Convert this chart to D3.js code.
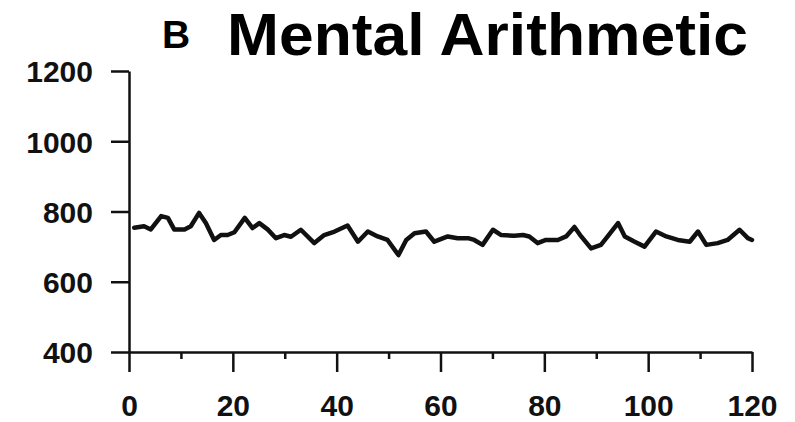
<!DOCTYPE html>
<html>
<head>
<meta charset="utf-8">
<script src="https://cdn.jsdelivr.net/npm/d3@7"></script>
<style>
  body { margin: 0; background: #fff; }
  svg { display: block; }
  .axis path, .axis line { stroke: #111; stroke-width: 2.5; }
  .axis text { font-family: "Liberation Sans", Arial, sans-serif; font-weight: bold; font-size: 30px; fill: #111; }
  .trace { fill: none; stroke: #111; stroke-width: 4.5; stroke-linejoin: round; stroke-linecap: round; }
</style>
</head>
<body>
<script>
var width = 795;
var height = 422;

// trace (time, value)
var times = [1, 2.9, 4.2, 6.2, 7.5, 8.7, 10.7, 11.9, 13.5, 14.8, 16.4, 17.7, 19, 20.3, 22.3, 23.8,
    25.1, 26.7, 28.3, 29.9, 31.2, 33.1, 35.7, 37.6, 39.6, 42.1, 44.1, 46, 47.9, 49.8, 51.9, 53.4,
    55, 57.2, 58.8, 61.4, 63.3, 65.3, 66.5, 68.1, 70.1, 71.7, 74.2, 75.9, 77.1, 78.7, 80.3, 82.6,
    84.2, 85.8, 87.1, 89, 90.9, 92.2, 94.2, 95.5, 97.4, 99.3, 101.5, 103.5, 105.7, 108, 109.6,
    111.2, 113.4, 115.3, 117.6, 119.2, 120];
var values = [754, 758, 749, 787, 782, 749, 749, 758, 796, 767, 719, 733, 733, 741, 782, 753,
    767, 749, 724, 733, 728, 748, 710, 733, 743, 760, 714, 743, 729, 719, 676, 719,
    738, 743, 714, 729, 724, 724, 719, 705, 748, 733, 731, 733, 729, 710, 719, 719,
    729, 756, 729, 695, 705, 729, 767, 729, 714, 700, 743, 729, 719, 714, 743,
    705, 710, 719, 748, 724, 719];

var xTicks = [0, 20, 40, 60, 80, 100, 120];
var xMinorTicks = [10, 30, 50, 70, 90, 110];
var yTicks = [400, 600, 800, 1000, 1200];

var x = d3.scaleLinear().domain([0, 120]).range([129, 752]);
var y = d3.scaleLinear().domain([400, 1200]).range([352, 71]);

var svg = d3.select("body").append("svg")
    .attr("width", width)
    .attr("height", height);

// Title
svg.append("text")
    .attr("x", 162)
    .attr("y", 48)
    .style("font-family", "Liberation Sans, Arial, sans-serif")
    .style("font-weight", "bold")
    .style("font-size", "39px")
    .text("B");

svg.append("text")
    .attr("x", 227)
    .attr("y", 55)
    .attr("textLength", 521)
    .attr("lengthAdjust", "spacingAndGlyphs")
    .style("font-family", "Liberation Sans, Arial, sans-serif")
    .style("font-weight", "bold")
    .style("font-size", "60px")
    .text("Mental Arithmetic");

// Minor x ticks
svg.append("g")
    .attr("class", "axis")
    .attr("transform", "translate(0," + y(400) + ")")
    .call(d3.axisBottom(x).tickValues(xMinorTicks).tickSize(7).tickSizeOuter(0).tickFormat(""))
    .call(g => g.select(".domain").remove());

// X axis
svg.append("g")
    .attr("class", "axis")
    .attr("transform", "translate(0," + y(400) + ")")
    .call(d3.axisBottom(x).tickValues(xTicks).tickSize(20).tickSizeOuter(0).tickPadding(23)
        .tickFormat(d3.format("d")));

// Y axis
svg.append("g")
    .attr("class", "axis")
    .attr("transform", "translate(" + x(0) + ",0)")
    .call(d3.axisLeft(y).tickValues(yTicks).tickSize(18).tickSizeOuter(0).tickPadding(18)
        .tickFormat(d3.format("d")))
    .call(g => g.selectAll("text").attr("dy", "0.36em"));

// Trace
var line = d3.line()
    .x(function(d, i) { return x(times[i]); })
    .y(function(d) { return y(d); });

svg.append("path")
    .datum(values)
    .attr("class", "trace")
    .attr("d", line);
</script>
</body>
</html>
